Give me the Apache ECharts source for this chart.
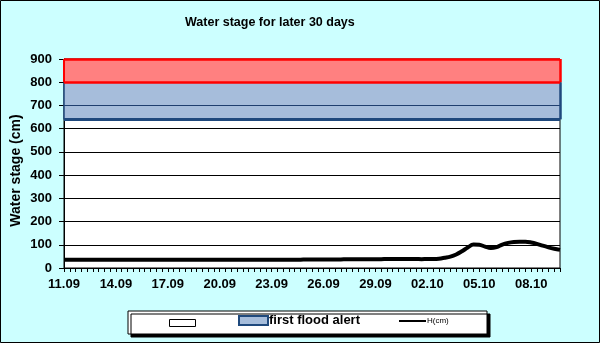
<!DOCTYPE html>
<html>
<head>
<meta charset="utf-8">
<script src="https://cdn.jsdelivr.net/npm/echarts@6/dist/echarts.min.js"></script>
<style>
html,body{margin:0;padding:0;background:#CCFFFF;}
#c{width:600px;height:343px;}
</style>
</head>
<body>
<div id="c"></div>
<script>
// ---- data ----
var days = ['11.09','12.09','13.09','14.09','15.09','16.09','17.09','18.09','19.09','20.09',
            '21.09','22.09','23.09','24.09','25.09','26.09','27.09','28.09','29.09','30.09',
            '01.10','02.10','03.10','04.10','05.10','06.10','07.10','08.10','09.10'];
var hours = ['00','08','16'];
var waterStage = [
  35,35,36,36,36,36,36,36,35,35,
  35,35,35,35,35,35,35,35,36,36,
  36,36,36,36,36,36,36,36,35,35,
  35,35,35,35,35,35,35,35,35,36,
  36,36,37,37,37,37,37,37,37,38,
  38,38,38,38,38,38,39,39,39,39,
  39,39,38,39,39,40,44,49,58,72,
  88,101,100,92,86,90,101,108,112,113,
  113,110,104,96,89,83,78
];
var alertBase = 640;   // lower edge of first flood alert band (cm)
var alertTop = 800;    // upper edge of first flood alert band (cm)
var maxLevel = 900;    // top of the red band (cm)
var yTicks = [0,100,200,300,400,500,600,700,800,900];

// ---- build ----
var categories = [];
days.forEach(function(d){ hours.forEach(function(h){ categories.push(d + ' ' + h); }); });
var baseArr = categories.map(function(){ return alertBase; });
var blueArr = categories.map(function(){ return alertTop - alertBase; });
var redArr = categories.map(function(){ return maxLevel - alertTop; });
var firstCat = categories[0], lastCat = categories[categories.length-1];

var RED = '#FF0000', NAVY = '#1F497D';
function vseg(cat, y0, y1, color, w){
  return [{coord:[cat, y0], lineStyle:{color:color, width:w, type:'solid'}}, {coord:[cat, y1]}];
}

var FONT = 'Liberation Sans';
var chart = echarts.init(document.getElementById('c'), null, {renderer:'canvas'});
chart.setOption({
  backgroundColor: '#CCFFFF',
  animation: false,
  title: {
    text: 'Water stage for later 30 days',
    left: 180, top: 11,
    textStyle: {fontFamily: FONT, fontWeight: 'bold', fontSize: 12.5, color: '#000'}
  },
  graphic: [
    {type:'rect', z: 0, shape:{x:0.5,y:0.5,width:599,height:342},
     style:{fill:null, stroke:'#000', lineWidth:1}},
    {type:'rect', z: 0, shape:{x:128,y:311,width:359,height:23},
     style:{fill:'#fff', stroke:'#000', lineWidth:1, shadowColor:'#000', shadowOffsetX:3, shadowOffsetY:3, shadowBlur:0}}
  ],
  legend: [
    {left: 169, top: 319, padding: 0, itemWidth: 26, itemHeight: 7, z: 5,
     data: [{name:' ', icon:'rect', itemStyle:{color:'#fff', borderColor:'#000', borderWidth:1}}],
     textStyle:{fontFamily:FONT, fontSize:8}},
    {left: 238, top: 314, padding: 0, itemWidth: 29, itemHeight: 9, itemGap: 0, z: 5,
     data: [{name:'first flood alert', icon:'rect', itemStyle:{color:'#A6BDDB', borderColor:NAVY, borderWidth:2}}],
     textStyle:{fontFamily:FONT, fontSize:13, fontWeight:'bold', color:'#000', padding:[0,0,0,-4]}},
    {left: 399, top: 317, padding: 0, itemWidth: 27, itemHeight: 2, z: 5,
     data: [{name:'H(cm)', icon:'rect', itemStyle:{color:'#000'}}],
     textStyle:{fontFamily:FONT, fontSize:8, color:'#000', padding:[0,0,0,-4]}}
  ],
  grid: {left: 64, top: 59, width: 496, height: 209, show: true, backgroundColor: '#fff',
         borderColor: '#000', borderWidth: 1, outerBoundsMode: 'none', containLabel: false},
  xAxis: {
    type: 'category', data: categories, boundaryGap: false,
    axisLine: {lineStyle:{color:'#000', width:1}},
    axisTick: {interval: 0, length: 4, lineStyle:{color:'#000'}},
    axisLabel: {interval: 8, margin: 10, fontFamily: FONT, fontWeight: 'bold', fontSize: 13, color:'#000',
      formatter: function(v){ return v.split(' ')[0]; }},
    splitLine: {show:false}
  },
  yAxis: {
    type: 'value', min: yTicks[0], max: yTicks[yTicks.length-1], interval: 100,
    name: 'Water stage (cm)', nameLocation: 'middle', nameGap: 41, nameMoveOverlap: false,
    nameTextStyle: {fontFamily: FONT, fontWeight:'bold', fontSize: 14, color:'#000', padding:[0,14,0,0]},
    axisLine: {show:true, lineStyle:{color:'#000', width:1}},
    axisTick: {show:true, length: 5, lineStyle:{color:'#000'}},
    axisLabel: {margin: 12, fontFamily: FONT, fontWeight:'bold', fontSize: 13, color:'#000'},
    splitLine: {lineStyle:{color:'#000', width:1}}
  },
  series: [
    {name:' ', type:'line', stack:'band', data: baseArr, symbol:'none', silent:true,
     lineStyle:{width:0}, z: 2},
    {name:'first flood alert', type:'line', stack:'band', data: blueArr, symbol:'none', silent:true,
     lineStyle:{width:0}, areaStyle:{color:'#A6BDDB', opacity:1}, z: 3},
    {name:'red band', type:'line', stack:'band', data: redArr, symbol:'none', silent:true,
     lineStyle:{width:0}, areaStyle:{color:'#FF8080', opacity:1}, z: 4,
     markLine:{silent:true, symbol:'none', label:{show:false}, z: 6,
       data:[
         {yAxis: yTicks[7], lineStyle:{color:'#1F3F6F', width:1, type:'solid'}},
         vseg(lastCat, alertBase, alertTop, NAVY, 2.5),
         vseg(firstCat, alertBase, alertTop, NAVY, 1.5),
         {yAxis: alertBase, lineStyle:{color:NAVY, width:3, type:'solid'}},
         vseg(lastCat, alertTop, maxLevel, RED, 2.5),
         vseg(firstCat, alertTop, maxLevel, RED, 2),
         {yAxis: alertTop, lineStyle:{color:RED, width:2.5, type:'solid'}},
         {yAxis: maxLevel, lineStyle:{color:RED, width:2.5, type:'solid'}}
       ]}},
    {name:'H(cm)', type:'line', data: waterStage, symbol:'none', smooth: 0.4,
     lineStyle:{color:'#000', width:4}, itemStyle:{color:'#000'}, z: 10}
  ]
});
</script>
</body>
</html>
